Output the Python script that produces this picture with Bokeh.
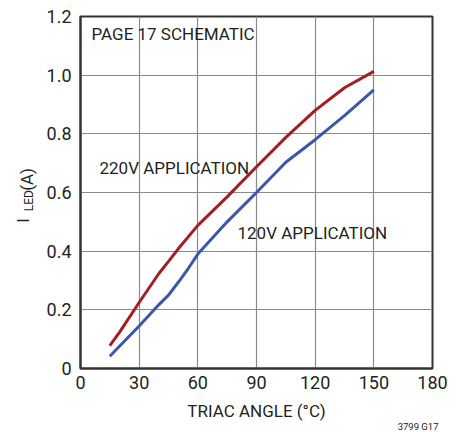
import math
from bokeh.plotting import figure
from bokeh.models import FixedTicker, Label, Title
from bokeh.layouts import row
from bokeh.core.properties import value
from bokeh.embed import file_html
from bokeh.resources import INLINE

# ---- data ----
angle_220 = [15, 20, 30, 40, 45, 50, 60, 75, 90, 105, 120, 135, 150]
iled_220 = [0.078, 0.124, 0.225, 0.323, 0.365, 0.408, 0.488, 0.585, 0.688, 0.788, 0.880, 0.957, 1.013]
angle_120 = [15, 30, 40, 45, 50, 55, 60, 75, 90, 105, 120, 135, 150]
iled_120 = [0.042, 0.145, 0.217, 0.250, 0.294, 0.340, 0.390, 0.500, 0.600, 0.703, 0.780, 0.862, 0.950]
x_ticks = [0, 30, 60, 90, 120, 150, 180]
y_ticks = [0, 0.2, 0.4, 0.6, 0.8, 1.0, 1.2]
y_tick_labels = ["0", "0.2", "0.4", "0.6", "0.8", "1.0", "1.2"]

FONT = "Roboto"
TXT = "#231f20"
RED = "#a31d24"
BLUE = "#3a58a8"

H = 432
LW = 40            # width of the left strip holding the y-axis title
MW = 421           # width of the main figure
FL, FR, FT, FB = 80, 432, 16, 368  # frame edges in page pixels

# ---- left strip: rotated y-axis title "I_LED (A)" ----
lab = figure(width=LW, height=H, x_range=(0, LW), y_range=(0, H), title=None,
             x_axis_type=None, y_axis_type=None, output_backend="svg",
             toolbar_location=None, min_border=0)
lab.outline_line_color = None
lab.grid.visible = False
lab.background_fill_color = "white"
lab.border_fill_color = "white"
ang = math.pi / 2
lab.text(x=[22], y=[H - 253], text=["I"], angle=ang, text_font=value(FONT),
         text_font_size="17px", text_color=TXT, text_baseline="middle", text_align="left")
lab.text(x=[28.5], y=[H - 239], text=["LED"], angle=ang, text_font=value(FONT),
         text_font_size="12px", text_color=TXT, text_baseline="middle", text_align="left")
lab.text(x=[26], y=[H - 214], text=["(A)"], angle=ang, text_font=value(FONT),
         text_font_size="17px", text_color=TXT, text_baseline="middle", text_align="left")

# ---- main chart ----
p = figure(width=MW, height=H, x_range=(0, 180), y_range=(0, 1.2), title=None,
           output_backend="svg", toolbar_location=None,
           min_border_left=FL - LW, min_border_right=LW + MW - FR,
           min_border_top=FT, min_border_bottom=H - FB)
p.background_fill_color = "white"
p.border_fill_color = "white"
p.outline_line_color = "#333333"
p.outline_line_width = 2

p.xaxis.ticker = FixedTicker(ticks=x_ticks)
p.yaxis.ticker = FixedTicker(ticks=y_ticks)
p.yaxis.major_label_overrides = {t: l for t, l in zip(y_ticks, y_tick_labels)}
p.xaxis.major_label_overrides = {t: str(t) for t in x_ticks}
for ax in (p.xaxis, p.yaxis):
    ax.major_tick_line_color = None
    ax.minor_tick_line_color = None
    ax.major_tick_out = 0
    ax.major_tick_in = 0
    ax.minor_tick_out = 0
    ax.minor_tick_in = 0
    ax.axis_line_color = "#333333"
    ax.axis_line_width = 2
    ax.major_label_text_font = FONT
    ax.major_label_text_font_size = "18px"
    ax.major_label_text_color = TXT
p.yaxis.major_label_standoff = 9
p.xaxis.major_label_standoff = 7
p.xaxis.axis_label = "TRIAC ANGLE (°C)"
p.xaxis.axis_label_text_font = FONT
p.xaxis.axis_label_text_font_size = "17px"
p.xaxis.axis_label_text_font_style = "normal"
p.xaxis.axis_label_text_color = TXT
p.xaxis.axis_label_standoff = 9

p.xgrid.grid_line_color = "#8a8a8a"
p.ygrid.grid_line_color = "#8a8a8a"
p.xgrid.grid_line_width = 1.2
p.ygrid.grid_line_width = 1.2

p.line(angle_220, iled_220, line_color=RED, line_width=3)
p.line(angle_120, iled_120, line_color=BLUE, line_width=3)

def dx(px):
    return (px - FL) * 180.0 / (FR - FL)

def dy(py):
    return (FB - py) * 1.2 / (FB - FT)

for txt, px, py in [("PAGE 17 SCHEMATIC", 91, 33),
                    ("220V APPLICATION", 99, 167),
                    ("120V APPLICATION", 237, 232)]:
    p.add_layout(Label(x=dx(px), y=dy(py), text=txt, text_font=FONT, text_font_size="17px",
                       text_color=TXT, text_baseline="middle", text_align="left"))

# footer figure number, bottom right
p.add_layout(Title(text="3799 G17", align="right", offset=-6, standoff=-10,
                   text_font=FONT, text_font_size="9.5px", text_font_style="normal",
                   text_color=TXT), "below")

layout = row(lab, p, spacing=0)
open("out.html", "w").write(file_html(layout, INLINE))
